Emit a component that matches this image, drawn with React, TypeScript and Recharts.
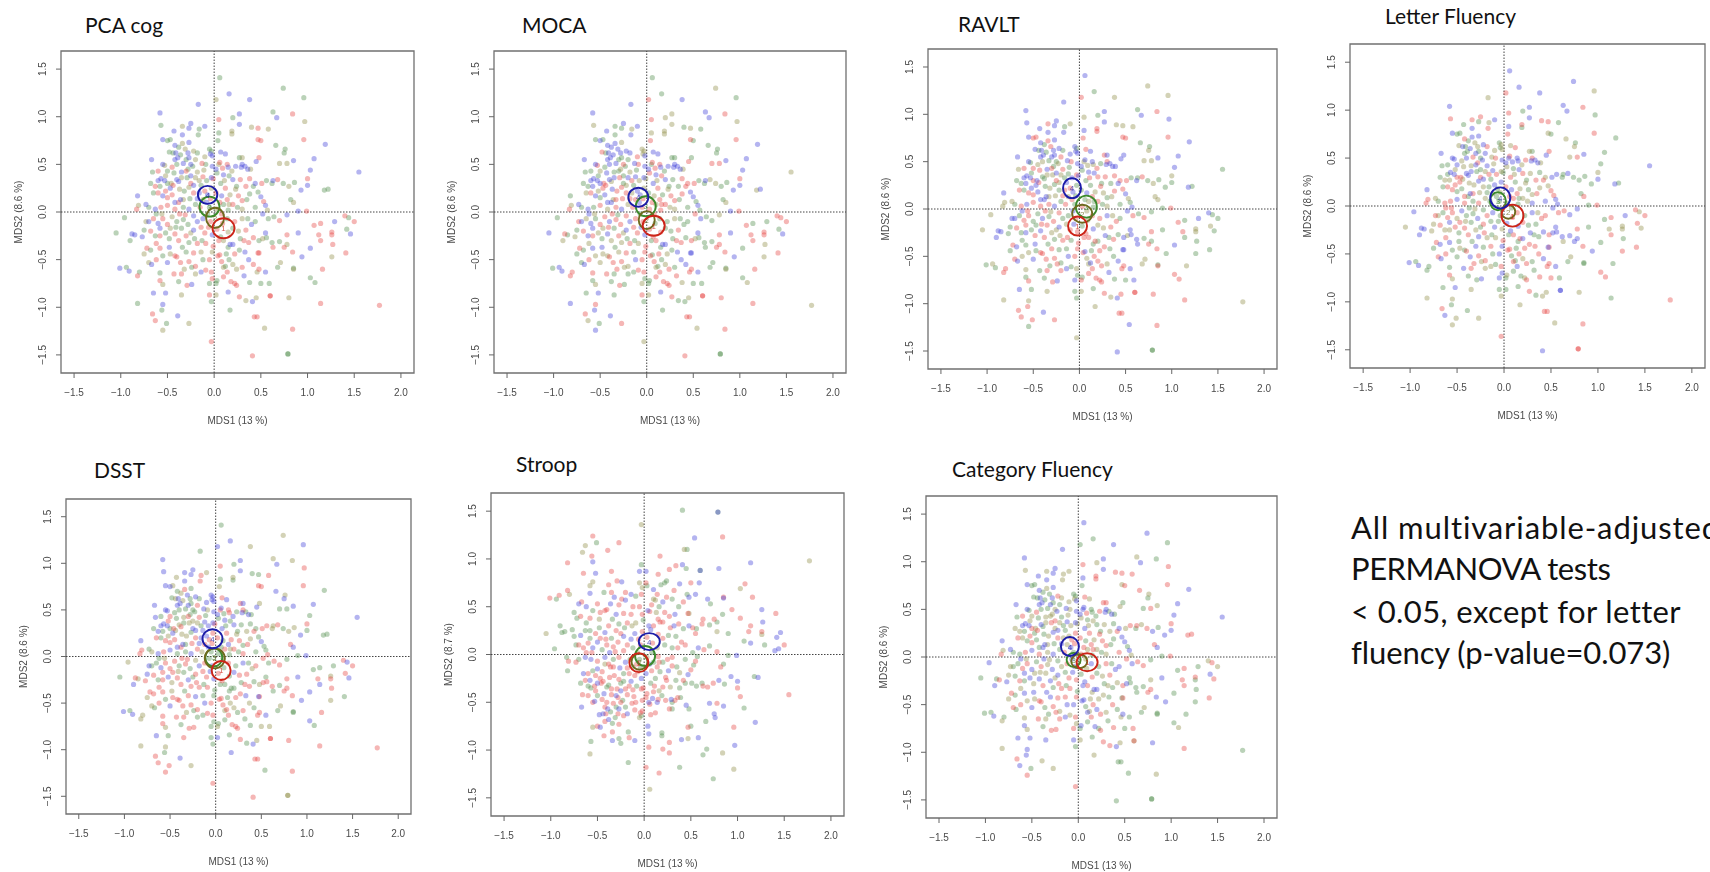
import React from "react";
import { ScatterChart, Scatter, XAxis, YAxis, ReferenceLine, ReferenceArea } from "recharts";

// One row per sample: [MDS1, MDS2, quartile code in each panel]
// code order: PCA cog, MOCA, RAVLT, Letter Fluency, DSST, Stroop, Category Fluency
type Row = [number, number, string];

const OUTER_TOP: Row[] = [
  [1.55,0.42,"bogbbrb"],[1.19,0.71,"bbbggbb"],[1.07,0.56,"bbbgbgb"],[1.03,0.44,"bbbggrb"],[1.0,0.28,"bbgbgbb"],
  [0.93,0.23,"bbggbbb"],[1.0,0.35,"rroorrr"],[0.96,0.76,"rrrrrrr"],[0.97,0.95,"oobgrbr"],[0.96,1.2,"ggoobog"],
  [0.84,1.03,"rrrroog"],[0.74,1.3,"goobogb"],[0.67,0.99,"bbbbbgb"],[0.63,1.05,"gbgbogo"],[0.38,1.18,"bbobogb"],
  [0.16,1.24,"bggbbrg"],[0.06,1.41,"ggbbgob"],[0.02,1.18,"orrrbrg"],[-0.17,1.13,"bbboggb"],[-0.58,1.04,"bbbbbob"],
  [0.27,1.03,"bobbbrb"],[0.27,0.92,"bobbbrb"],[0.2,0.99,"gogggro"],[0.05,0.97,"rrorrrr"],[-0.57,0.91,"gobrbgo"],
  [-0.25,0.93,"bbbrbgb"],[-0.43,0.85,"bbbgorb"],[-0.34,0.9,"ogrrbbo"],[-0.27,0.88,"bgbgbgb"],[-0.1,0.9,"bbobobo"],
  [-0.16,0.87,"gogorro"],[0.4,0.89,"ogorgbr"],[0.47,0.88,"roorgor"],[0.58,0.87,"ogogrbr"],[0.19,0.85,"oorrogr"],
  [0.19,0.82,"oorgggr"],[0.05,0.83,"gobbgbb"],[-0.17,0.81,"gbbrrgo"],[-0.34,0.81,"bgbbbrb"],
  [0.47,0.76,"rrrorro"],[0.5,0.75,"rgrgrgr"],[0.04,0.75,"grrrobg"],[0.66,0.7,"gggobgr"],[0.75,0.62,"ggoobbg"],[0.76,0.66,"ggggobo"],
];

const UPPER_LEFT: Row[] = [
  [-0.55,0.76,"bgbbbob"],[-0.5,0.75,"gbrgbrg"],[-0.47,0.76,"ggrgobg"],[-0.42,0.7,"bbbrgrb"],[-0.38,0.68,"gbggobg"],
  [-0.34,0.72,"obrbrgo"],[-0.27,0.73,"bobbgrb"],[-0.41,0.62,"bbbgbrb"],[-0.36,0.6,"gbgbogg"],[-0.28,0.62,"bbbogrb"],
  [-0.27,0.57,"bgbggbg"],[-0.22,0.64,"obbbbrr"],[-0.18,0.62,"gbgrgbo"],[-0.1,0.58,"orbobro"],[-0.05,0.66,"gobgbog"],
  [-0.04,0.61,"bobgbro"],[-0.02,0.59,"bbbobrb"],[-0.03,0.64,"gogobgg"],[-0.67,0.55,"bbbbbbb"],[-0.66,0.42,"ggogbrg"],
  [-0.55,0.5,"bbbbbrb"],[-0.53,0.49,"orgbbbg"],[-0.5,0.43,"gorbrgo"],[-0.45,0.47,"rgoogrr"],[-0.42,0.55,"bbbgbrb"],
  [-0.39,0.57,"bbbgbbb"],[-0.33,0.51,"bbgrgrg"],[-0.3,0.55,"ggbbbgb"],[-0.25,0.5,"brgggro"],[-0.2,0.55,"ogrbrgg"],
  [-0.13,0.51,"rbbobrb"],[-0.09,0.5,"grrroro"],[-0.02,0.48,"bbbbbrb"],[-0.6,0.43,"rgrggrr"],[-0.57,0.35,"bbbbbgb"],
  [-0.68,0.3,"ggggggo"],[-0.63,0.27,"rggobro"],[-0.6,0.33,"bbbgbgb"],[-0.53,0.33,"bbbbbrb"],[-0.5,0.3,"gbrrgbr"],
  [-0.47,0.25,"brbrbrg"],[-0.4,0.34,"bbgbogb"],[-0.38,0.32,"bogbrgg"],[-0.35,0.36,"obobgro"],[-0.3,0.43,"rgrbrbo"],
  [-0.25,0.38,"bgbgobr"],[-0.18,0.42,"oorbrrg"],[-0.12,0.37,"rbgbbrb"],[-0.08,0.33,"gobrbgo"],[-0.03,0.36,"bbrobrb"],
  [-0.01,0.35,"robgrro"],[-0.65,0.2,"gorgrbr"],[-0.6,0.2,"rrgrgro"],[-0.55,0.17,"bbrrrgg"],[-0.5,0.15,"rgrgrbr"],
  [-0.45,0.18,"rbbgrrg"],[-0.42,0.1,"bbbrbog"],[-0.36,0.13,"bobbbrb"],[-0.32,0.22,"groooro"],[-0.27,0.26,"orgbgrb"],
  [-0.22,0.2,"rrgorgr"],[-0.18,0.14,"brrgbrb"],[-0.14,0.28,"ggbgbbg"],[-0.1,0.22,"rbrbbro"],[-0.07,0.18,"bbbgrrr"],
  [-0.03,0.25,"oogbrbr"],[-0.82,0.17,"bgbbbgb"],[-0.73,0.08,"bboogrb"],[-0.81,0.07,"ooorrro"],[-0.83,0.03,"rrorrgr"],
  [-0.7,0.05,"ggggogg"],[-0.63,0.03,"bbrrbbg"],[-0.57,0.05,"rgbrrbr"],[-0.5,0.07,"rrrbbrb"],[-0.38,0.1,"rbbgrrb"],
  [-0.33,0.05,"grrgggo"],[-0.27,0.03,"bbbrbrb"],[-0.2,0.08,"gogorbg"],[-0.15,0.05,"rrrgogr"],[-0.08,0.1,"bbrgbrb"],
  [-0.05,0.05,"grggggg"],[-0.25,0.3,"rgrrbgo"],[-0.43,0.41,"gbrogbg"],[-0.46,0.3,"orbrrro"],[-0.52,0.22,"robrorr"],
  [-0.58,0.27,"gbbogbg"],[-0.28,0.45,"gogrgro"],[-0.22,0.28,"boobbgb"],[-0.16,0.33,"orgrgrg"],[-0.4,0.5,"gbobgrg"],
  [-0.35,0.42,"bgbooro"],[-0.44,0.62,"gggbobg"],[-0.31,0.66,"obrobgg"],[-0.48,0.63,"grbogbg"],[-0.23,0.48,"ggobggb"],
];

// Extra samples in the dense centre of the cloud
const CENTRE_DENSE: Row[] = [
  [-0.52,0.38,"oggorro"],[-0.44,0.28,"rrroorr"],[-0.37,0.24,"obgoorg"],[-0.29,0.36,"grogorr"],[-0.2,0.36,"oboooro"],
  [-0.11,0.44,"oggogro"],[-0.33,0.13,"ororgro"],[-0.26,0.14,"groorbg"],[-0.12,0.13,"oroorgo"],[-0.42,0.03,"rorrgbr"],
  [-0.16,0.2,"borgbro"],[-0.04,0.14,"rrgorgr"],[0.03,0.41,"grgogro"],[0.09,0.46,"rrobgbr"],[0.19,0.43,"ogrobgg"],
  [0.11,0.33,"oorogro"],[0.28,0.34,"rgrogoo"],[0.17,0.18,"ogoorgo"],[0.26,0.17,"rrogrbr"],[0.38,0.19,"grrooog"],
  [0.1,0.08,"goorrgo"],[-0.56,-0.02,"oorroro"],[-0.47,-0.17,"oogrrro"],[-0.41,-0.16,"grrooro"],[-0.31,-0.03,"rgoorro"],
  [-0.25,-0.22,"oooggro"],[-0.14,-0.16,"rrogrbg"],[-0.21,-0.28,"ggorrgr"],[-0.09,-0.33,"rogoror"],[-0.47,-0.44,"oogorro"],
  [-0.36,-0.53,"rrrbrbg"],[-0.24,-0.58,"gorogrr"],[-0.14,-0.42,"oggrgrr"],[-0.09,-0.61,"rrggrgo"],[0.09,-0.12,"rgorgro"],
  [0.1,-0.3,"orrrgrr"],[0.13,-0.44,"grgggoo"],[0.26,-0.2,"ogogrgo"],[0.34,-0.19,"rrrgrgr"],[0.27,-0.4,"ggrrrro"],
  [0.08,-0.52,"rrogrrg"],[0.3,-0.58,"rgogrgo"],[0.36,-0.07,"ggoogrg"],[0.24,-0.6,"orrrgrr"],[-0.62,-0.33,"rogrrgo"],
];

const UPPER_RIGHT: Row[] = [
  [0.07,0.63,"bbrorrr"],[0.06,0.52,"rrbrbrb"],[0.14,0.5,"rrbbrbg"],[0.15,0.47,"bbobrrg"],[0.23,0.48,"bbgrgrr"],
  [0.29,0.47,"bbbbbbb"],[0.3,0.5,"bbrrrgb"],[0.33,0.48,"bbbbgrg"],[0.36,0.45,"bbbbbrb"],[0.39,0.45,"ooboggg"],
  [0.45,0.53,"brbbbbo"],[0.48,0.57,"rgbrogg"],[0.27,0.57,"ggrorrr"],[0.3,0.57,"ogbgbgr"],[0.12,0.61,"bbbrbro"],
  [0.02,0.45,"bbbbbrb"],[0.05,0.5,"ogobrbb"],[0.1,0.39,"bbbgbrg"],[0.16,0.38,"grbbgoo"],[0.2,0.34,"bbrrbrg"],
  [0.24,0.27,"gggggrg"],[0.23,0.24,"ooroorr"],[0.07,0.3,"gbgrbgb"],[0.12,0.25,"rrggrgr"],[0.02,0.2,"rggrrbr"],
  [0.08,0.17,"bobbgrg"],[0.14,0.13,"rrrrbrr"],[0.16,0.08,"orggorr"],[0.2,0.08,"rrrorgo"],[0.25,0.05,"gogogrg"],
  [0.3,0.12,"rrgogrr"],[0.35,0.13,"ggorrgg"],[0.34,0.27,"rggrogo"],[0.38,0.35,"rrrgggg"],[0.42,0.27,"grbrrrr"],
  [0.44,0.3,"brroggb"],[0.47,0.21,"gbrogbb"],[0.5,0.16,"bbbrbrb"],[0.53,0.11,"rgorggg"],[0.56,0.33,"gggbrgr"],
  [0.62,0.3,"ggbgogg"],[0.63,0.33,"bbggorr"],[0.68,0.34,"rorbrro"],[0.74,0.3,"gogggrr"],[0.8,0.27,"ogogobb"],
  [0.86,0.31,"ggggogg"],[0.82,0.13,"ggogrrr"],[0.85,0.1,"ooorbgb"],[0.7,0.51,"oroogbg"],[0.78,0.51,"ororgrr"],
  [0.85,0.54,"bbbbbbo"],[0.51,0.3,"rrrbrgo"],[0.44,0.05,"gggbggr"],[0.3,0.03,"ooobrro"],[0.15,0.02,"grgggrg"],
  [1.18,0.23,"gobbggr"],[1.22,0.24,"gbgggbr"],[0.9,0.01,"bbggggg"],[0.99,0.01,"rrrrbbr"],[0.57,0.02,"ogbbrgo"],
  [0.55,0.07,"bbgbgrb"],[0.06,0.1,"rrgrgbr"],[0.03,0.03,"orrogor"],
];

const LOWER_LEFT: Row[] = [
  [-0.62,-0.02,"gbbrgrb"],[-0.65,-0.07,"rogggrg"],[-0.7,-0.1,"bbbogrg"],[-0.73,-0.1,"orbrbgo"],[-0.6,-0.12,"bbrrbrr"],
  [-0.58,-0.17,"bbrbrgb"],[-0.55,-0.07,"rgrrrbr"],[-0.5,-0.13,"rrgorbb"],[-0.45,-0.05,"orgbrgg"],[-0.4,-0.1,"gbbggrr"],
  [-0.37,-0.02,"rrrgrbb"],[-0.33,-0.08,"grggrro"],[-0.28,-0.13,"grrbgrb"],[-0.22,-0.04,"brrgorg"],[-0.18,-0.1,"bbgrbro"],
  [-0.12,-0.07,"brgbrgr"],[-0.07,-0.02,"ggbggob"],[-0.04,-0.1,"rrrgbrb"],[-0.88,-0.23,"brbbrgg"],[-0.85,-0.24,"bgbbogr"],
  [-0.9,-0.3,"gobbbgb"],[-0.75,-0.19,"gggobgo"],[-0.77,-0.26,"bogorgb"],[-0.68,-0.2,"rrrrrbg"],[-0.63,-0.25,"gbgoggr"],
  [-0.58,-0.25,"rrborgg"],[-0.52,-0.22,"gogrbrb"],[-0.48,-0.28,"ggrgogo"],[-0.42,-0.23,"rbbrrbb"],[-0.38,-0.3,"rorrrrr"],
  [-0.35,-0.17,"ggrgggo"],[-0.3,-0.25,"rroobrb"],[-0.27,-0.32,"gogbrgg"],[-0.22,-0.19,"bbbrrbb"],[-0.18,-0.33,"rrrorrr"],
  [-0.13,-0.3,"ggrggog"],[-0.1,-0.22,"rrrbrbr"],[-0.06,-0.16,"rbbgbrb"],[-0.02,-0.24,"bbrobrr"],[-0.01,-0.36,"rrrrggg"],
  [-0.75,-0.44,"ogggogo"],[-0.72,-0.38,"rrrrrgr"],[-0.68,-0.4,"ggbbrrg"],[-0.7,-0.53,"ogrrobr"],[-0.67,-0.55,"bbbbgrg"],
  [-0.62,-0.5,"rrorrbr"],[-0.58,-0.38,"rbgbrrb"],[-0.55,-0.46,"googggo"],[-0.5,-0.53,"bobgbrb"],[-0.48,-0.37,"bbbgoob"],
  [-0.42,-0.46,"rorgrrr"],[-0.4,-0.47,"rrrrrrr"],[-0.34,-0.37,"ggggggb"],[-0.3,-0.42,"gorbrbb"],[-0.27,-0.52,"rrrrrrr"],
  [-0.22,-0.43,"rrggbrr"],[-0.2,-0.57,"rogrrbo"],[-0.12,-0.5,"gbbgbrb"],[-0.05,-0.5,"rrrbrrb"],[-0.02,-0.42,"orrbgrr"],
  [-0.82,-0.67,"rrrgoro"],[-0.8,-0.63,"grrgoog"],[-0.58,-0.64,"grogrbo"],[-0.58,-0.72,"rggrrob"],[-0.55,-0.76,"ooroooo"],
  [-0.43,-0.65,"rrgbrgr"],[-0.38,-0.73,"gggggrg"],[-0.35,-0.65,"rgrrrro"],[-0.32,-0.6,"orgrobg"],[-0.24,-0.76,"bgbbrbr"],
  [-0.29,-0.77,"rrrgrrr"],[-0.2,-0.65,"ogrogrr"],[-0.14,-0.63,"bgbogbb"],[-0.05,-0.75,"gobbgor"],[-0.03,-0.63,"rrorrrr"],
  [-0.02,-0.7,"rggbgoo"],[-0.35,-0.87,"ogoorrb"],[-0.65,-0.85,"bgbgbrb"],[-0.52,-0.85,"bbgbgbb"],[-0.03,-0.94,"gggoggg"],
  [-0.05,-0.87,"rrgggbb"],
];

const LOWER_RIGHT: Row[] = [
  [0.02,-0.87,"ooogbbo"],[0.03,-0.72,"gggoggb"],[0.02,-0.75,"ggrgorg"],[0.1,-0.58,"oooroob"],[0.12,-0.57,"ggbgroo"],
  [0.14,-0.63,"rrrbrrr"],[0.1,-0.68,"rrrggbg"],[0.18,-0.73,"rrrgrgb"],[0.15,-0.84,"bbgggrg"],[0.24,-0.77,"rrrrrgr"],
  [0.22,-0.75,"rrrorgg"],[0.27,-0.89,"rrrrrrr"],[0.34,-0.93,"ogoggrr"],[0.32,-0.67,"brbggrg"],[0.38,-0.74,"gogrgbr"],
  [0.45,-0.9,"ooroogo"],[0.46,-0.63,"orrrrgo"],[0.55,-0.63,"bbbbbbg"],[0.5,-0.75,"gggrorg"],[0.59,-0.75,"ggbgobr"],
  [0.68,-0.58,"ggoggbg"],[0.71,-0.53,"ogooogo"],[0.85,-0.59,"gggggbg"],[0.85,-0.6,"oorggrg"],[1.03,-0.69,"ggrrbog"],
  [1.08,-0.74,"gorrgro"],[1.16,-0.6,"rrogrrg"],[0.04,-0.46,"rrrrrbb"],[0.06,-0.45,"rgbrrrb"],[0.15,-0.37,"gggggro"],
  [0.17,-0.34,"bbrrgrb"],[0.2,-0.34,"bbgbgrb"],[0.22,-0.44,"rorrrro"],[0.16,-0.5,"ggrrogr"],[0.2,-0.55,"ooroobb"],
  [0.33,-0.42,"bbgrbbg"],[0.37,-0.5,"bbgrogr"],[0.42,-0.55,"rbbbgrg"],[0.48,-0.43,"rbbrror"],[0.47,-0.43,"rbbbbrg"],
  [0.48,-0.6,"rrrrrbb"],[0.63,-0.37,"rgbogrg"],[0.75,-0.37,"rrrbrrr"],[0.78,-0.34,"orgbrgr"],[0.84,-0.42,"rrrrrgb"],
  [0.94,-0.47,"bbgbbrb"],[1.03,-0.38,"bgbgbrg"],[1.26,-0.47,"oogrobg"],[1.41,-0.43,"rrgrgrr"],[0.05,-0.3,"rgrggbb"],
  [0.03,-0.18,"rrgbrrg"],[0.07,-0.26,"grrbrbb"],[0.15,-0.21,"orbbgrr"],[0.2,-0.17,"ggorbrg"],[0.28,-0.28,"ggbbgrg"],
  [0.32,-0.3,"rrggrbo"],[0.37,-0.32,"rrrgrrg"],[0.42,-0.27,"rggbggo"],[0.48,-0.3,"grbrobr"],[0.52,-0.28,"ooobrrb"],
  [0.56,-0.27,"ggbbrgg"],[0.62,-0.32,"ggbbrrg"],[0.7,-0.31,"gggbggg"],[0.78,-0.24,"rrrrroo"],[0.9,-0.22,"bbggbgb"],
  [1.12,-0.24,"rrrorrr"],[1.14,-0.3,"rrgrbrr"],[1.26,-0.24,"rroorrg"],[1.27,-0.34,"roggrbg"],[1.26,-0.21,"rroooor"],
  [1.42,-0.18,"ggorrbb"],[1.46,-0.23,"bbgobbr"],[1.07,-0.14,"rrrgggg"],[1.14,-0.12,"rggrgbr"],[1.4,-0.04,"rrbrrbo"],
  [1.44,-0.06,"grgobbr"],[1.5,-0.1,"rrgrrro"],[1.29,-0.1,"bgbbggg"],[0.78,-0.03,"bogbgrg"],[0.7,-0.09,"rgrbrgr"],
  [0.64,-0.05,"gggrrrr"],[0.58,-0.07,"gbrrgbb"],[0.52,-0.02,"brbbrgr"],[0.44,-0.1,"gggrrrb"],[0.4,-0.13,"bgrrorb"],
  [0.3,-0.07,"oobbbgr"],[0.22,-0.1,"rgrgggg"],[0.14,-0.07,"ggrrrob"],[0.08,-0.02,"rrogggo"],[0.55,-0.22,"bbbbgrg"],
];

const OUTER_BOTTOM: Row[] = [
  [1.77,-0.98,"roorrog"],[-1.05,-0.22,"gboogog"],[-0.96,-0.06,"ggobogb"],[-1.01,-0.59,"bggbbrg"],[-0.91,-0.62,"bbgbbrb"],
  [-0.94,-0.58,"gbogggg"],[-0.82,-0.96,"gboooro"],[-0.66,-1.07,"rrrrror"],[-0.63,-1.14,"rorbrob"],[-0.55,-0.97,"brooobb"],
  [-0.56,-1.03,"gbrggrb"],[-0.51,-1.17,"ggrorgg"],[-0.55,-1.24,"obgorrr"],[-0.27,-1.17,"orrooro"],[-0.39,-1.09,"bbbgbro"],
  [0.17,-1.03,"ggoobro"],[-0.03,-1.36,"roorror"],[0.41,-1.51,"rrbbrgg"],[0.79,-1.49,"gggrobg"],[0.79,-1.49,"gggrogg"],
  [0.54,-1.22,"oobogbg"],[0.84,-1.23,"rrrrrro"],[1.14,-0.96,"rrrgrbr"],[0.8,-0.9,"orrorbb"],[0.6,-0.88,"rrrbrbo"],
  [0.6,-0.88,"rrrbrgr"],[0.41,-0.94,"bgbobbb"],[0.43,-1.1,"rrrrrog"],[0.46,-1.1,"rrrrrgg"],
];

const ALL_ROWS: Row[] = [...OUTER_TOP, ...UPPER_LEFT, ...CENTRE_DENSE, ...UPPER_RIGHT, ...LOWER_LEFT, ...LOWER_RIGHT, ...OUTER_BOTTOM];

const X_TICKS = [-1.5, -1.0, -0.5, 0.0, 0.5, 1.0, 1.5, 2.0];
const Y_TICKS = [-1.5, -1.0, -0.5, 0.0, 0.5, 1.0, 1.5];
const X_DOMAIN: [number, number] = [-1.64, 2.14];
const Y_DOMAIN: [number, number] = [-1.69, 1.69];

const QUARTILES = ["g", "o", "r", "b"];
const POINT_COLORS: Record<string, string> = { b: "#3a3ad8", g: "#4a8a44", o: "#8c8840", r: "#e4403c" };
const RING_COLORS: Record<string, string> = { b: "#1c1ca8", g: "#3c8a2c", o: "#6e6a1e", r: "#cc2418" };
const RING_DIGITS: Record<string, string> = { b: "4", g: "3", o: "2", r: "1" };

// Group centroids: [group, MDS1, MDS2, ring half width, ring half height]
type Ring = [string, number, number, number, number];
const RINGS_PCA: Ring[] = [["g",-0.05,0.056,10,10],["o",0.01,-0.06,9,10],["r",0.10,-0.17,11,10],["b",-0.07,0.18,9.7,9]];
const RINGS_MOCA: Ring[] = [["g",-0.01,0.06,10,10],["o",0.0,-0.085,8,9],["r",0.075,-0.145,11,10],["b",-0.09,0.155,10,9.5]];
const RINGS_RAVLT: Ring[] = [["g",0.075,0.025,10.5,11],["o",0.03,-0.05,10,9],["r",-0.02,-0.18,9.5,9.5],["b",-0.08,0.22,9,10]];
const RINGS_LETTER: Ring[] = [["g",-0.065,0.05,8,9],["o",0.045,-0.06,7,7],["r",0.09,-0.10,11,11],["b",-0.04,0.085,10,10.5]];
const RINGS_DSST: Ring[] = [["g",-0.02,-0.01,8.5,9],["o",-0.01,-0.02,10,10],["r",0.06,-0.15,9.5,9.5],["b",-0.035,0.19,10,9.5]];
const RINGS_STROOP: Ring[] = [["g",0.01,-0.015,10,10],["o",-0.05,-0.075,8,8],["r",-0.057,-0.085,9.5,9.5],["b",0.055,0.135,10.5,8.5]];
const RINGS_CATEGORY: Ring[] = [["g",-0.05,-0.03,7,7],["o",0.01,-0.045,8,7],["r",0.095,-0.055,10.5,9],["b",-0.09,0.11,9,9.5]];

const PANELS = [
  { title: "PCA cog", index: 0, box: [61, 51, 353, 322], titlePos: [85, 33], yLabel: "MDS2 (8.6 %)", rings: RINGS_PCA, sign: 1 },
  { title: "MOCA", index: 1, box: [494, 51, 352, 322], titlePos: [522, 33], yLabel: "MDS2 (8.6 %)", rings: RINGS_MOCA, sign: 1 },
  { title: "RAVLT", index: 2, box: [928, 49, 349, 320], titlePos: [958, 32], yLabel: "MDS2 (8.6 %)", rings: RINGS_RAVLT, sign: 1 },
  { title: "Letter Fluency", index: 3, box: [1350, 44, 355, 324], titlePos: [1385, 24], yLabel: "MDS2 (8.6 %)", rings: RINGS_LETTER, sign: 1 },
  { title: "DSST", index: 4, box: [66, 499, 345, 315], titlePos: [94, 478], yLabel: "MDS2 (8.6 %)", rings: RINGS_DSST, sign: 1 },
  { title: "Stroop", index: 5, box: [491, 493, 353, 323], titlePos: [516, 472], yLabel: "MDS2 (8.7 %)", rings: RINGS_STROOP, sign: -1 },
  { title: "Category Fluency", index: 6, box: [926, 496, 351, 322], titlePos: [952, 477], yLabel: "MDS2 (8.6 %)", rings: RINGS_CATEGORY, sign: 1 },
];

const NOTE_LINES = ["All multivariable-adjusted", "PERMANOVA tests", "< 0.05, except for letter", "fluency (p-value=0.073)"];
const NOTE_BASELINES = [539, 580, 623, 664];
const NOTE_SPACING = [0.9, -0.45, 0.4, -0.1];

const fmt = (v: number) => v.toFixed(1).replace("-", "\u2212");
const AXIS_FONT = "'Liberation Sans', Arial, sans-serif";
const AXIS_COLOR = "#4a4a4a";

const Dot = (color: string) => (p: any) => <circle cx={p.cx} cy={p.cy} r={2.6} fill={color} fillOpacity={0.38} />;

const RingShape = (p: any) => {
  const d = p.payload;
  return (
    <g>
      <ellipse cx={p.cx} cy={p.cy} rx={d.rx} ry={d.ry} fill="none" stroke={RING_COLORS[d.group]} strokeWidth={1.9} />
      <text x={p.cx} y={p.cy + 3} fontSize={8} textAnchor="middle" fontFamily={AXIS_FONT} fill={RING_COLORS[d.group]} fillOpacity={0.75}>
        {RING_DIGITS[d.group]}
      </text>
    </g>
  );
};

const XTick = (p: any) => (
  <text x={p.x} y={p.y + 16} textAnchor="middle" fontSize={10} fontFamily={AXIS_FONT} fill={AXIS_COLOR}>
    {fmt(p.payload.value)}
  </text>
);

const YTick = (p: any) => (
  <text x={p.x - 8} y={p.y} textAnchor="middle" fontSize={10} fontFamily={AXIS_FONT} fill={AXIS_COLOR}
    transform={`rotate(-90 ${p.x - 8} ${p.y})`}>
    {fmt(p.payload.value)}
  </text>
);

const ML = 60, MT = 10, MR = 5, MB = 60;

function Panel({ panel }: { panel: (typeof PANELS)[number] }) {
  const [bx, by, bw, bh] = panel.box;
  const seriesFor = (q: string) =>
    ALL_ROWS.filter((r) => r[2][panel.index] === q).map((r) => ({ x: r[0], y: r[1] * panel.sign }));
  return (
    <div style={{ position: "absolute", left: bx - ML, top: by - MT }}>
      <ScatterChart width={bw + ML + MR} height={bh + MT + MB} margin={{ top: MT, right: MR, left: 0, bottom: 0 }}>
        <XAxis type="number" dataKey="x" domain={X_DOMAIN} ticks={X_TICKS} allowDataOverflow height={MB} interval={0}
          axisLine={false} tickLine={{ stroke: "#666" }} tickSize={5} tickMargin={2} tick={XTick}
          label={{ value: "MDS1 (13 %)", position: "insideBottom", offset: 9, fontSize: 10, fontFamily: AXIS_FONT, fill: AXIS_COLOR }} />
        <YAxis type="number" dataKey="y" domain={Y_DOMAIN} ticks={Y_TICKS} allowDataOverflow width={ML} interval={0}
          axisLine={false} tickLine={{ stroke: "#666" }} tickSize={5} tickMargin={2} tick={YTick}
          label={{ value: panel.yLabel, angle: -90, position: "insideLeft", offset: 17, fontSize: 10, fontFamily: AXIS_FONT, fill: AXIS_COLOR, style: { textAnchor: "middle" } }} />
        <ReferenceArea x1={X_DOMAIN[0]} x2={X_DOMAIN[1]} y1={Y_DOMAIN[0]} y2={Y_DOMAIN[1]} fill="none" stroke="#707070" strokeWidth={1.3} fillOpacity={0} strokeOpacity={1} />
        <ReferenceLine x={0} stroke="#444" strokeDasharray="1.5 1.5" />
        <ReferenceLine y={0} stroke="#444" strokeDasharray="1.5 1.5" />
        {QUARTILES.map((q) => (
          <Scatter key={q} name={q} data={seriesFor(q)} shape={Dot(POINT_COLORS[q])} isAnimationActive={false} />
        ))}
        <Scatter
          name="centroids"
          data={panel.rings.map(([group, x, y, rx, ry]) => ({ group, x, y, rx, ry }))}
          shape={RingShape}
          isAnimationActive={false}
        />
      </ScatterChart>
    </div>
  );
}

export default function App() {
  return (
    <div style={{ position: "absolute", left: 0, top: 0, width: 1710, height: 872, overflow: "hidden", background: "#fff" }}>
      <div style={{ position: "absolute", inset: 0, filter: "blur(0.55px)" }}>
        {PANELS.map((p) => (
          <Panel key={p.title} panel={p} />
        ))}
      </div>
      <svg width={1710} height={872} style={{ position: "absolute", left: 0, top: 0, pointerEvents: "none" }}>
        {PANELS.map((p) => (
          <text key={p.title} x={p.titlePos[0]} y={p.titlePos[1]} fontFamily="Lato, 'Open Sans', sans-serif" fontSize={21} fill="#111">
            {p.title}
          </text>
        ))}
        {NOTE_LINES.map((line, i) => (
          <text key={line} x={1351} y={NOTE_BASELINES[i]} fontFamily="Lato, 'Open Sans', sans-serif" fontSize={31} letterSpacing={NOTE_SPACING[i]} fill="#111">
            {line}
          </text>
        ))}
      </svg>
    </div>
  );
}
